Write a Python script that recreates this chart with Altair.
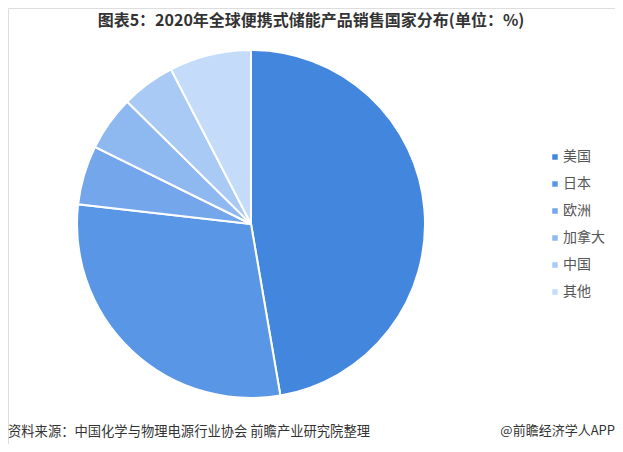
import altair as alt
import pandas as pd

countries = ["美国", "日本", "欧洲", "加拿大", "中国", "其他"]
shares = [47.3, 29.5, 5.5, 5.1, 5.0, 7.6]
colors = ["#4286DE", "#5A96E6", "#74A6EB", "#8EB8F0", "#A9CAF5", "#C4DCF9"]

title_text = "图表5：2020年全球便携式储能产品销售国家分布(单位：%)"
source_text = "资料来源：中国化学与物理电源行业协会 前瞻产业研究院整理"
brand_text = "@前瞻经济学人APP"

df = pd.DataFrame({"country": countries, "share": shares, "idx": list(range(len(countries)))})

FONT = "Noto Sans CJK SC"

pie = alt.Chart(df).mark_arc(
    outerRadius=174, stroke="white", strokeWidth=2
).encode(
    theta=alt.Theta("share:Q", stack=True),
    order=alt.Order("idx:Q", sort="ascending"),
    color=alt.Color(
        "country:N",
        scale=alt.Scale(domain=countries, range=colors),
        sort=countries,
        legend=alt.Legend(
            title=None,
            orient="none",
            legendX=540,
            legendY=142,
            padding=0,
            symbolType="square",
            symbolSize=30,
            symbolStrokeWidth=0,
            labelFont=FONT,
            labelFontSize=14,
            labelColor="#555555",
            labelOffset=1,
            rowPadding=13,
        ),
    ),
    x=alt.value(243),
    y=alt.value(216),
)

title = alt.Chart(pd.DataFrame({"t": [title_text]})).mark_text(
    font=FONT, fontSize=16, fontWeight="bold", color="#333333",
    align="center", baseline="middle"
).encode(text="t:N", x=alt.value(303), y=alt.value(13))

source = alt.Chart(pd.DataFrame({"t": [source_text]})).mark_text(
    font=FONT, fontSize=13.3, color="#333333", align="left", baseline="middle"
).encode(text="t:N", x=alt.value(0), y=alt.value(424))

brand = alt.Chart(pd.DataFrame({"t": [brand_text]})).mark_text(
    font=FONT, fontSize=13, color="#333333", align="right", baseline="middle"
).encode(text="t:N", x=alt.value(607), y=alt.value(423))

chart = alt.layer(pie, title, source, brand).properties(
    width=607, height=436, padding=0, autosize=alt.AutoSizeParams(type="none")
).configure_view(stroke=None).configure(background="white")

chart.save("out.html", embed_options={"renderer": "svg", "actions": False})
